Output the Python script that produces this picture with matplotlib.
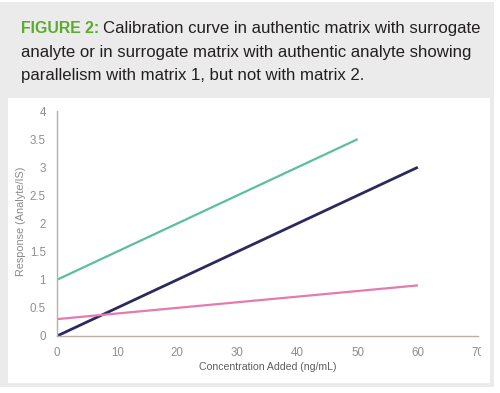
import matplotlib
matplotlib.use("Agg")
import matplotlib.pyplot as plt
from matplotlib.patches import Rectangle
from matplotlib.transforms import Bbox

# Calibration lines: concentration added (ng/mL) vs response (analyte/IS)
conc_matrix1 = [0, 50]
resp_matrix1 = [1.0, 3.5]
conc_reference = [0, 60]
resp_reference = [0.0, 3.0]
conc_matrix2 = [0, 60]
resp_matrix2 = [0.3, 0.9]

x_ticks = [0, 10, 20, 30, 40, 50, 60, 70]
y_ticks = [0, 0.5, 1, 1.5, 2, 2.5, 3, 3.5, 4]
y_tick_labels = ["0", "0.5", "1", "1.5", "2", "2.5", "3", "3.5", "4"]

W, H = 500, 393
fig = plt.figure(figsize=(W / 100, H / 100), dpi=100)
fig.patch.set_facecolor("white")

def px_rect(x0, y0, x1, y1, color):
    fig.patches.append(Rectangle((x0 / W, 1 - y1 / H), (x1 - x0) / W, (y1 - y0) / H,
                                 transform=fig.transFigure, facecolor=color,
                                 edgecolor="none", zorder=-5))

# grey card with a white plotting panel
px_rect(0, 2, 494, 387, "#ebebeb")
px_rect(8, 98, 490, 383, "white")

# caption
fam = ["Liberation Sans", "DejaVu Sans"]
cap_size = 12.1
t1 = fig.text(21 / W, 1 - 33 / H, "FIGURE 2:", color="#5aac2e", fontweight="bold",
              va="baseline", ha="left", family=fam, fontsize=11.4)
fig.canvas.draw()
bb = t1.get_window_extent()
fig.text((bb.x1 + 4) / W, 1 - 33 / H,
         "Calibration curve in authentic matrix with surrogate",
         color="#231f20", va="baseline", ha="left", family=fam, fontsize=cap_size)
fig.text(21 / W, 1 - 57 / H,
         "analyte or in surrogate matrix with authentic analyte showing",
         color="#231f20", va="baseline", ha="left", family=fam, fontsize=cap_size)
fig.text(21 / W, 1 - 80 / H,
         "parallelism with matrix 1, but not with matrix 2.",
         color="#231f20", va="baseline", ha="left", family=fam, fontsize=cap_size)

ax = fig.add_axes([57 / W, 1 - 336 / H, (478 - 57) / W, (336 - 111) / H])
ax.set_zorder(2)
ax.set_facecolor("none")
ax.plot(conc_matrix1, resp_matrix1, color="#5cbf9c", lw=1.6, solid_capstyle="butt")
ax.plot(conc_reference, resp_reference, color="#2b2a5c", lw=2.0, solid_capstyle="butt")
ax.plot(conc_matrix2, resp_matrix2, color="#e57aad", lw=1.6, solid_capstyle="butt")

ax.set_xlim(0, 70)
ax.set_ylim(0, 4)
ax.set_xticks(x_ticks)
ax.set_yticks(y_ticks)
ax.set_yticklabels(y_tick_labels)
for s in ("top", "right"):
    ax.spines[s].set_visible(False)
for s in ("left", "bottom"):
    ax.spines[s].set_color("#bcaeab")
    ax.spines[s].set_linewidth(1.0)
ax.tick_params(length=0, labelsize=8.3, labelcolor="#8e8e8e")
ax.tick_params(axis="x", pad=8)
ax.tick_params(axis="y", pad=8)
for lab in ax.get_xticklabels() + ax.get_yticklabels():
    lab.set_family(fam)

ax.set_xlabel("Concentration Added (ng/mL)", fontsize=7.6, color="#5e5e5e",
              family=fam, va="center")
ax.xaxis.set_label_coords((268 - 57) / 421, -(367 - 336) / 225)
ax.set_ylabel("Response (Analyte/IS)", fontsize=7.8, color="#8a8a8a",
              family=fam, va="center")
ax.yaxis.set_label_coords((21 - 57) / 421, (336 - 221) / 225)

# the last x tick label is cut at the panel edge
clip = Bbox.from_extents(0, 0, 481, H)
for lab in ax.get_xticklabels():
    lab.set_clip_box(clip)
    lab.set_clip_on(True)

fig.savefig("out.png", dpi=100)
